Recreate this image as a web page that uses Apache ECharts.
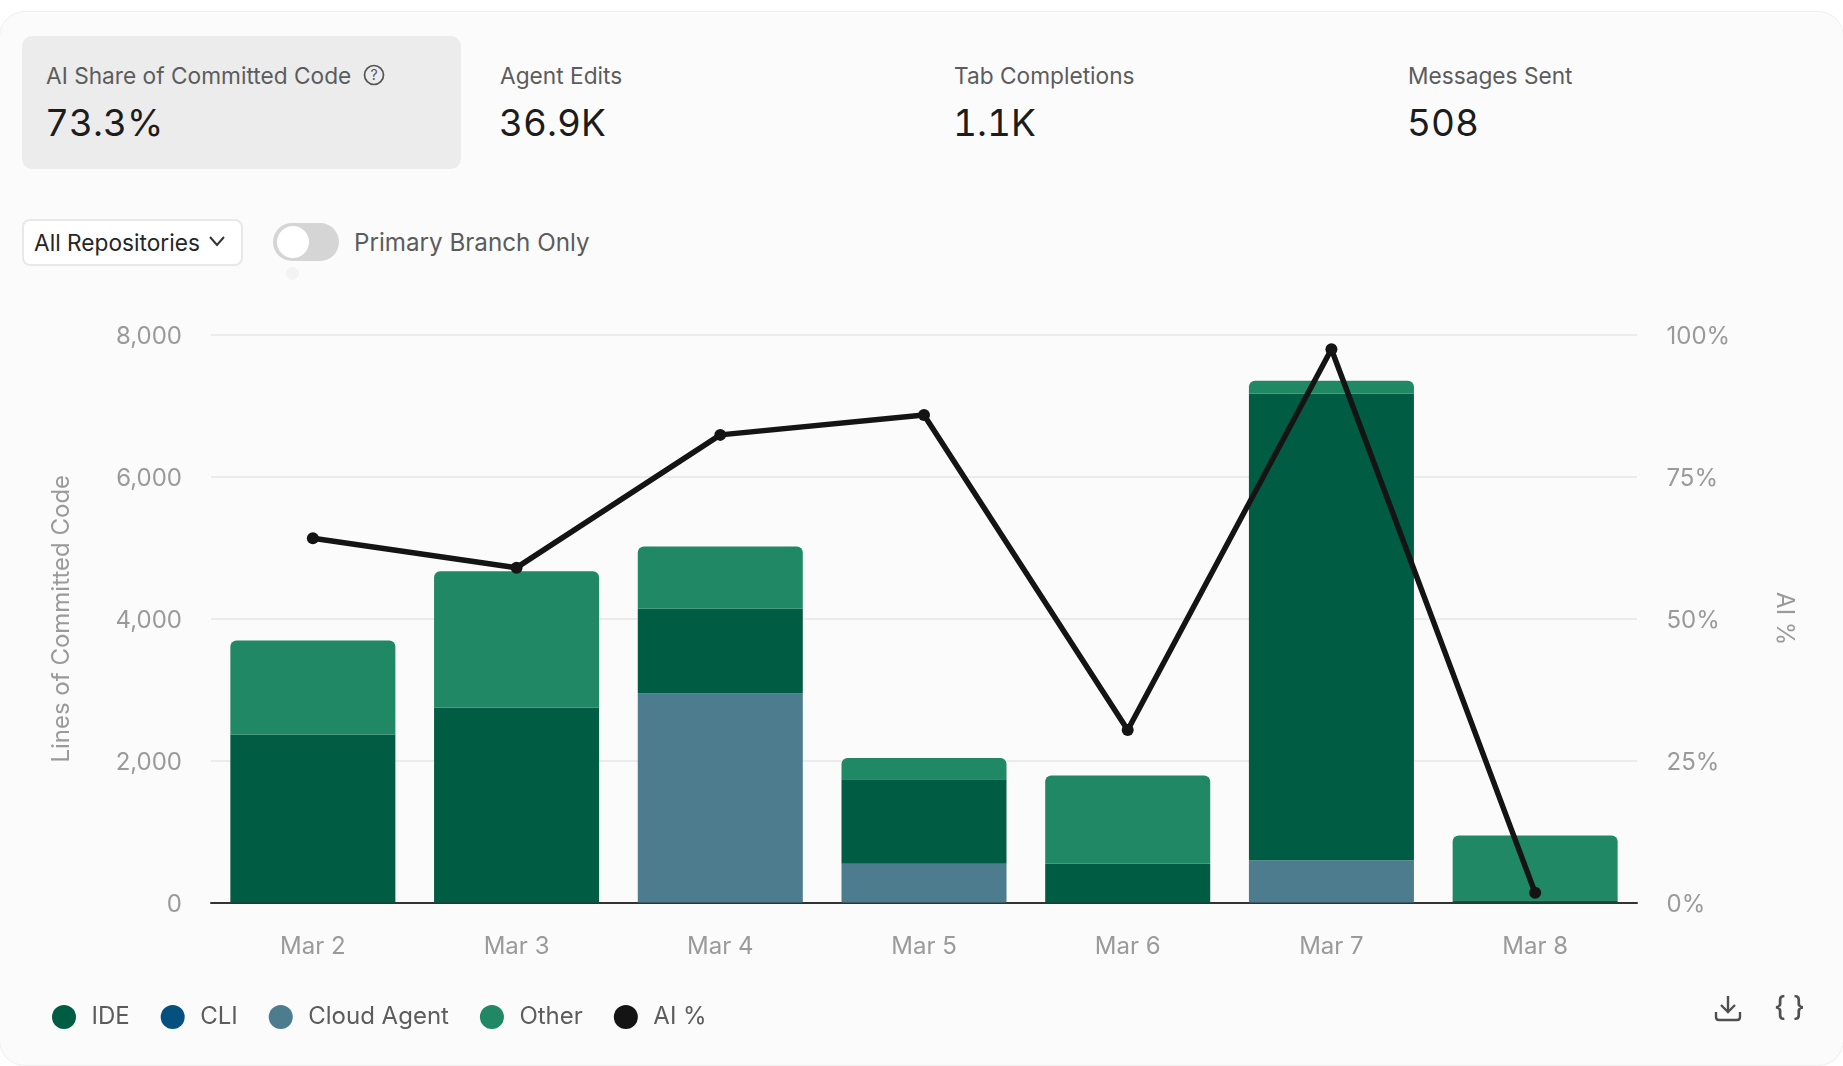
<!DOCTYPE html>
<html>
<head>
<meta charset="utf-8">
<title>AI Share of Committed Code</title>
<script src="https://cdn.jsdelivr.net/npm/echarts@6/dist/echarts.min.js"></script>
<style>
    html, body { margin: 0; padding: 0; background: #fff; }
    body { width: 1843px; height: 1066px; overflow: hidden; position: relative; font-family: Inter, "Noto Sans", sans-serif; }
    .card { position: absolute; left: -1px; top: 11px; width: 1843px; height: 1053px; background: #fbfbfb; border: 1px solid #eeeeee; border-radius: 26px; }
    .kpi-active { position: absolute; left: 22px; top: 36px; width: 439px; height: 133px; background: #ececec; border-radius: 10px; }
    .kpi-label { position: absolute; top: 62px; font-size: 22.7px; line-height: 28px; color: #5c5c5c; white-space: nowrap; }
    .kpi-value { position: absolute; top: 99px; margin-left: -1px; font-size: 37px; line-height: 48px; color: #1c1c1c; white-space: nowrap; font-variant-numeric: tabular-nums; }
    .help { position: absolute; left: 363px; top: 64px; }
    .select { position: absolute; left: 22px; top: 219px; width: 217px; height: 43px; background: #fff; border: 2px solid #e8e8e8; border-radius: 8px; }
    .select span { position: absolute; left: 10px; top: 8px; font-size: 22.7px; line-height: 28px; color: #262626; white-space: nowrap; }
    .select svg { position: absolute; left: 184px; top: 14px; }
    .toggle { position: absolute; left: 273px; top: 223px; width: 66px; height: 38px; background: #d5d5d5; border-radius: 19px; }
    .knob { position: absolute; left: 4px; top: 3px; width: 32px; height: 32px; background: #fff; border-radius: 50%; }
    .ghost { position: absolute; left: 286px; top: 267px; width: 13px; height: 13px; background: #f3f3f3; border-radius: 50%; }
    .toggle-label { position: absolute; left: 354px; top: 229px; font-size: 24.2px; line-height: 28px; color: #5c5c5c; white-space: nowrap; }
    #chart { position: absolute; left: 0; top: 0; width: 1843px; height: 1066px; }
    .dl { position: absolute; left: 1714px; top: 994px; }
    .braces { position: absolute; left: 1774px; top: 990px; font-size: 27px; line-height: 34px; font-weight: 500; color: #505050; white-space: nowrap; }
</style>
</head>
<body>
<div class="card"></div>
<div class="kpi-active"></div>
<div id="kpis"></div>
<svg class="help" width="22" height="22" viewBox="0 0 22 22">
    <circle cx="11" cy="11" r="9.5" fill="none" stroke="#555" stroke-width="1.7"></circle>
    <text x="11" y="16" text-anchor="middle" font-size="14" font-family="Inter" fill="#555">?</text>
</svg>
<div class="select">
    <span>All Repositories</span>
    <svg width="18" height="12" viewBox="0 0 18 12"><path d="M2 2 L9 10 L16 2" fill="none" stroke="#333" stroke-width="2"></path></svg>
</div>
<div class="toggle"><div class="knob"></div></div>
<div class="ghost"></div>
<div class="toggle-label">Primary Branch Only</div>
<div id="chart"></div>
<svg class="dl" width="28" height="28" viewBox="0 0 28 28">
    <path d="M14 2 V18 M7 11 L14 18 L21 11" fill="none" stroke="#505050" stroke-width="2.4"></path>
    <path d="M2 18 V23 Q2 26 5 26 H23 Q26 26 26 23 V18" fill="none" stroke="#505050" stroke-width="2.4"></path>
</svg>
<div class="braces">{ }</div>

<script>
var kpiLabels = ["AI Share of Committed Code", "Agent Edits", "Tab Completions", "Messages Sent"];
var kpiValues = ["73.3%", "36.9K", "1.1K", "508"];
var kpiLefts = [46, 500, 954, 1408];

var days = ["Mar 2", "Mar 3", "Mar 4", "Mar 5", "Mar 6", "Mar 7", "Mar 8"];
var ideLines = [2368, 2750, 1192, 1193, 546, 6575, 30];
var cliLines = [0, 0, 0, 0, 0, 0, 0];
var cloudLines = [0, 0, 2948, 546, 0, 596, 0];
var otherLines = [1325, 1920, 878, 298, 1243, 183, 914];
var aiPercent = [64.2, 59, 82.4, 85.9, 30.4, 97.5, 1.7];
var legendNames = ["IDE", "CLI", "Cloud Agent", "Other", "AI %"];

var html = "";
kpiLabels.forEach(function (label, i) {
    html += '<div class="kpi-label" style="left:' + kpiLefts[i] + 'px">' + label + '</div>';
    html += '<div class="kpi-value" style="left:' + kpiLefts[i] + 'px">' + kpiValues[i] + '</div>';
});
document.getElementById("kpis").innerHTML = html;

var gray = "#9a9a9a";
var myChart = echarts.init(document.getElementById("chart"), null, { renderer: "canvas" });

var option = {
    animation: false,
    textStyle: { fontFamily: "Inter" },
    grid: { left: 211, right: 206, top: 335, bottom: 163.5 },
    legend: {
        data: legendNames,
        left: 52,
        top: 1005,
        padding: 0,
        icon: "circle",
        itemWidth: 24,
        itemHeight: 24,
        itemGap: 31,
        textStyle: { fontSize: 24, color: "#5c5c5c", fontFamily: "Inter", padding: [0, 0, 0, 10.5] }
    },
    xAxis: {
        type: "category",
        data: days,
        axisTick: { show: false },
        axisLine: { lineStyle: { color: "#333", width: 2 } },
        axisLabel: { color: gray, fontSize: 24, margin: 32 }
    },
    yAxis: [
        {
            type: "value",
            min: 0,
            max: 8000,
            interval: 2000,
            name: "Lines of Committed Code",
            nameLocation: "middle",
            nameRotate: 90,
            nameGap: 137,
            nameTextStyle: { color: gray, fontSize: 24 },
            axisLine: { show: false },
            axisTick: { show: false },
            splitLine: { lineStyle: { color: "#ebebeb", width: 2 } },
            // small line box hung from the tick puts the text about 2px below it
            axisLabel: { color: gray, fontSize: 24, margin: 29, verticalAlign: "top", lineHeight: 4 }
        },
        {
            type: "value",
            position: "right",
            min: 0,
            max: 100,
            interval: 25,
            name: "AI %",
            nameLocation: "middle",
            nameRotate: -90,
            nameGap: 135,
            nameTextStyle: { color: gray, fontSize: 24 },
            axisLine: { show: false },
            axisTick: { show: false },
            splitLine: { show: false },
            axisLabel: { color: gray, fontSize: 24, margin: 29.5, verticalAlign: "top", lineHeight: 4, formatter: "{value}%" }
        }
    ],
    series: [
        { name: "Cloud Agent", type: "bar", stack: "lines", barCategoryGap: "19%", data: cloudLines, itemStyle: { color: "#4c7c8e" } },
        { name: "CLI", type: "bar", stack: "lines", data: cliLines, itemStyle: { color: "#05507f" } },
        { name: "IDE", type: "bar", stack: "lines", data: ideLines, itemStyle: { color: "#005c42" } },
        { name: "Other", type: "bar", stack: "lines", data: otherLines, itemStyle: { color: "#208864", borderRadius: [6, 6, 0, 0] } },
        {
            name: "AI %",
            type: "line",
            yAxisIndex: 1,
            data: aiPercent,
            symbol: "circle",
            symbolSize: 12,
            z: 5,
            itemStyle: { color: "#141414" },
            lineStyle: { color: "#141414", width: 5.5 }
        }
    ]
};

myChart.setOption(option);
</script>
</body>
</html>
